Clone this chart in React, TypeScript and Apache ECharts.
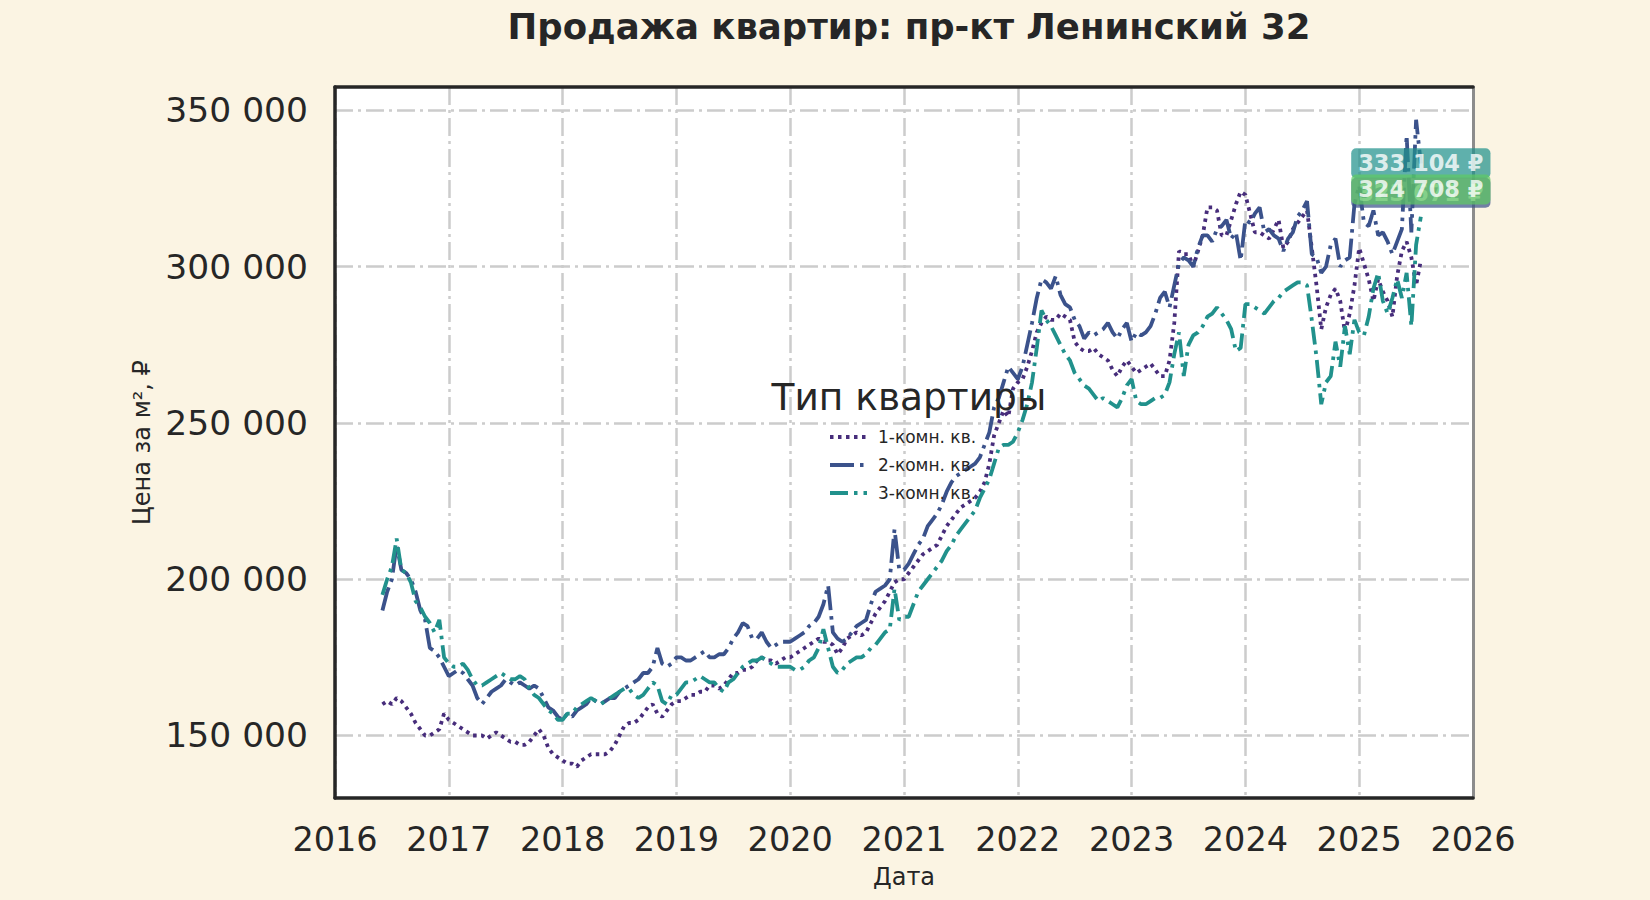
import { useEffect, useRef } from 'react';
import * as echarts from 'echarts';

const FONT = 'DejaVu Sans, Verdana, sans-serif';
const TEXT = '#262626';

const TITLE = 'Продажа квартир: пр-кт Ленинский 32';
const LEGEND_TITLE = 'Тип квартиры';
const SERIES_NAMES = ['1-комн. кв.', '2-комн. кв.', '3-комн. кв.'];
const COLORS = ['#472d7b', '#3b528b', '#21918c'];
const DASHES = [
  [3.5, 4.5],
  [24, 6, 3.5, 6],
  [18, 6, 3.5, 6],
];

// two points a month (1st and 16th), first one is June 2016
const START_YEAR = 2016;
const START_MONTH = 5;

// price per m2, thousands of roubles
// prettier-ignore
const room1k = [
  160, 161, 160, 162, 161, 159, 157, 154, 152, 150, 150, 151, 152, 157, // 2016
  155, 154, 153, 152, 151, 150, 150, 150, 149, 150, 151, 150, 149, 148, 148, 147, 147, 148, 150, 152, 150, 146, 144, 143, // 2017
  142, 141, 141, 140, 142, 143, 144, 144, 144, 144, 145, 147, 150, 153, 154, 154, 155, 157, 159, 160, 157, 156, 158, 160, // 2018
  161, 161, 162, 163, 163, 164, 164, 166, 166, 165, 166, 168, 170, 170, 171, 171, 172, 174, 175, 174, 174, 173, 174, 175, // 2019
  175, 176, 177, 178, 179, 180, 181, 180, 180, 179, 176, 178, 181, 182, 183, 182, 183, 186, 189, 191, 193, 196, 199, 200, // 2020
  200, 202, 204, 206, 208, 209, 210, 211, 214, 217, 219, 221, 223, 224, 225, 226, 228, 231, 237, 246, 250, 254, 252, 261, // 2021
  263, 264, 268, 273, 279, 282, 284, 283, 283, 285, 284, 283, 276, 274, 273, 273, 274, 272, 271, 270, 267, 265, 268, 270, // 2022
  268, 266, 267, 268, 269, 267, 265, 265, 270, 282, 305, 304, 304, 300, 305, 310, 319, 319, 318, 310, 310, 315, 320, 324, // 2023
  323, 317, 311, 311, 310, 309, 312, 315, 306, 308, 312, 314, 316, 318, 306, 294, 280, 287, 291, 293, 289, 279, 285, 294, // 2024
  306, 301, 296, 289, 296, 292, 289, 284, 297, 305, 308, 303, 294, 302, // 2025
];

// prettier-ignore
const room2k = [
  190, 196, 200, 211, 203, 202, 200, 196, 190, 187, 178, 177, 175, 172, // 2016
  169, 170, 171, 170, 168, 166, 162, 160, 162, 164, 165, 166, 168, 167, 166, 167, 166, 165, 166, 165, 162, 159, 158, 156, // 2017
  155, 157, 156, 158, 159, 160, 162, 161, 160, 161, 162, 162, 164, 165, 166, 167, 168, 170, 170, 172, 178, 173, 172, 173, // 2018
  175, 175, 174, 174, 175, 176, 177, 175, 175, 176, 176, 178, 181, 183, 186, 185, 181, 181, 183, 180, 178, 179, 180, 180, // 2019
  180, 181, 182, 183, 185, 186, 188, 192, 198, 183, 181, 180, 181, 183, 185, 186, 187, 192, 196, 197, 198, 200, 216, 203, // 2020
  203, 205, 208, 211, 213, 217, 219, 221, 224, 228, 231, 233, 234, 235, 236, 237, 239, 243, 247, 255, 258, 263, 268, 266, // 2021
  264, 268, 275, 282, 290, 296, 295, 293, 297, 291, 288, 287, 283, 281, 277, 279, 278, 279, 280, 282, 279, 277, 280, 282, // 2022
  276, 279, 278, 279, 281, 285, 290, 292, 287, 294, 301, 303, 302, 300, 306, 310, 310, 308, 312, 313, 315, 309, 311, 302, // 2023
  315, 314, 317, 319, 311, 312, 310, 309, 305, 309, 311, 316, 318, 321, 304, 303, 298, 300, 307, 309, 300, 302, 303, 320, // 2024
  326, 314, 313, 318, 310, 311, 308, 304, 308, 312, 342, 311, 347, 333, // 2025
];

// prettier-ignore
const room3k = [
  195, 200, 204, 213, 203, 202, 199, 193, 191, 188, 186, 183, 187, 175, // 2016
  173, 172, 172, 173, 171, 168, 166, 166, 167, 168, 169, 170, 169, 168, 168, 169, 168, 165, 163, 162, 160, 158, 157, 155, // 2017
  155, 157, 157, 159, 160, 161, 162, 161, 160, 161, 162, 163, 164, 165, 165, 163, 162, 163, 165, 167, 166, 161, 160, 163, // 2018
  163, 165, 167, 167, 168, 169, 168, 167, 167, 165, 164, 167, 168, 170, 172, 173, 174, 174, 175, 174, 173, 172, 172, 172, // 2019
  172, 171, 171, 172, 174, 175, 178, 184, 178, 172, 170, 171, 173, 174, 175, 175, 176, 178, 179, 181, 183, 184, 197, 187, // 2020
  188, 188, 192, 196, 198, 200, 202, 204, 206, 209, 211, 214, 216, 218, 220, 222, 226, 229, 232, 237, 242, 243, 243, 244, // 2021
  247, 251, 256, 263, 274, 286, 283, 281, 278, 275, 272, 270, 266, 264, 262, 261, 259, 257, 258, 257, 256, 255, 258, 262, // 2022
  264, 257, 256, 256, 257, 258, 258, 259, 263, 272, 279, 265, 275, 278, 279, 281, 284, 285, 287, 285, 283, 280, 273, 274, // 2023
  288, 288, 287, 286, 285, 287, 289, 290, 292, 293, 294, 295, 295, 294, 283, 271, 256, 263, 265, 276, 268, 281, 272, 283, // 2024
  279, 278, 284, 293, 298, 289, 285, 290, 296, 290, 298, 281, 307, 316, // 2025
];

const yTicks = [150000, 200000, 250000, 300000, 350000];

// last-value badges, drawn in this order (later on top)
const lastValues = [333104, 323671, 324708];
const lastColors = ['rgba(33,145,140,0.9)', 'rgba(59,82,139,0.9)', 'rgba(94,201,98,0.9)'];

const dates = room1k.map((_, i) => START_YEAR + (START_MONTH + Math.floor(i / 2)) / 12 + (i % 2) / 24);

const spaced = (v: number) => Math.round(v).toString().replace(/\B(?=(\d{3})+(?!\d))/g, ' ');

const X_MIN = 2016;
const X_MAX = 2026;
const Y_MIN = 130000;
const Y_MAX = 357500;

const gridLine = { color: '#cccccc', width: 2.5, type: [18, 5, 3, 5] as number[] };

function App() {
  const divEL = useRef<HTMLDivElement>(null);

  useEffect(() => {
    const instance = echarts.init(divEL.current as any, null, { renderer: 'svg' });

    const lines = [room1k, room2k, room3k].map((vals, k) => ({
      name: SERIES_NAMES[k],
      type: 'line',
      symbol: 'none',
      data: vals.map((v, i) => [dates[i], v * 1000]),
      lineStyle: { color: COLORS[k], width: 3.8, type: DASHES[k], cap: 'butt' },
      itemStyle: { color: COLORS[k] },
      z: 3,
    }));

    const option: any = {
      animation: false,
      backgroundColor: '#fbf4e3',
      textStyle: { fontFamily: FONT, color: TEXT },
      title: [
        {
          text: TITLE,
          left: 904,
          top: 3,
          textAlign: 'center',
          textStyle: { fontFamily: FONT, fontSize: 35.5, fontWeight: 'bold', color: TEXT },
        },
        {
          text: LEGEND_TITLE,
          left: 904,
          top: 373,
          textAlign: 'center',
          textStyle: { fontFamily: FONT, fontSize: 37.5, fontWeight: 'normal', color: TEXT },
        },
      ],
      legend: {
        data: SERIES_NAMES,
        orient: 'vertical',
        left: 823,
        top: 423,
        itemWidth: 37,
        itemHeight: 14,
        itemGap: 10,
        lineStyle: { width: 4 },
        itemStyle: { opacity: 0 },
        textStyle: { fontFamily: FONT, fontSize: 17, color: TEXT, lineHeight: 18, padding: [0, 0, 0, 6] },
      },
      grid: {
        left: 335,
        right: 177,
        top: 87,
        bottom: 102,
        show: true,
        backgroundColor: '#ffffff',
        borderWidth: 0,
      },
      xAxis: [
        {
          type: 'value',
          min: X_MIN,
          max: X_MAX,
          interval: 1,
          name: 'Дата',
          nameLocation: 'middle',
          nameGap: 67,
          nameTextStyle: { fontFamily: FONT, fontSize: 24, color: TEXT },
          axisLine: { show: true, lineStyle: { color: TEXT, width: 3.5 } },
          axisTick: { show: false },
          axisLabel: {
            margin: 24,
            fontFamily: FONT,
            fontSize: 33.5,
            color: TEXT,
            formatter: (v: number) => String(v),
          },
          splitLine: { show: true, lineStyle: gridLine },
        },
        {
          type: 'value',
          position: 'top',
          min: X_MIN,
          max: X_MAX,
          axisLine: { show: true, lineStyle: { color: TEXT, width: 3.5 } },
          axisTick: { show: false },
          axisLabel: { show: false },
          splitLine: { show: false },
        },
      ],
      yAxis: [
        {
          type: 'value',
          min: Y_MIN,
          max: Y_MAX,
          name: 'Цена за м², ₽',
          nameLocation: 'middle',
          nameRotate: 90,
          nameGap: 180,
          nameTextStyle: { fontFamily: FONT, fontSize: 24, color: TEXT },
          axisLine: { show: true, lineStyle: { color: TEXT, width: 3.5 } },
          axisTick: { show: false, customValues: yTicks },
          axisLabel: {
            margin: 27,
            fontFamily: FONT,
            fontSize: 34.5,
            color: TEXT,
            customValues: yTicks,
            formatter: (v: number) => spaced(v),
          },
          splitLine: { show: true, lineStyle: gridLine },
        },
        {
          type: 'value',
          position: 'right',
          min: Y_MIN,
          max: Y_MAX,
          axisLine: { show: true, lineStyle: { color: '#8c8c8c', width: 3 } },
          axisTick: { show: false },
          axisLabel: { show: false },
          splitLine: { show: false },
        },
      ],
      series: [
        ...lines,
        {
          type: 'scatter',
          symbolSize: 0,
          silent: true,
          z: 10,
          data: lastValues.map((v, k) => ({
            value: [dates[dates.length - 1], v],
            label: { backgroundColor: lastColors[k] },
          })),
          label: {
            show: true,
            position: 'inside',
            formatter: (p: any) => spaced(p.value[1]) + ' ₽',
            color: '#ffffff',
            fontFamily: FONT,
            fontWeight: 'bold',
            fontSize: 22.5,
            padding: [4, 7, 3, 7],
            borderRadius: 5,
          },
        },
      ],
    };

    instance.setOption(option);
    return () => {
      instance.dispose();
    };
  }, []);

  return <div ref={divEL} style={{ position: 'absolute', left: 0, top: 0, width: '1650px', height: '900px' }}></div>;
}

export default App;
